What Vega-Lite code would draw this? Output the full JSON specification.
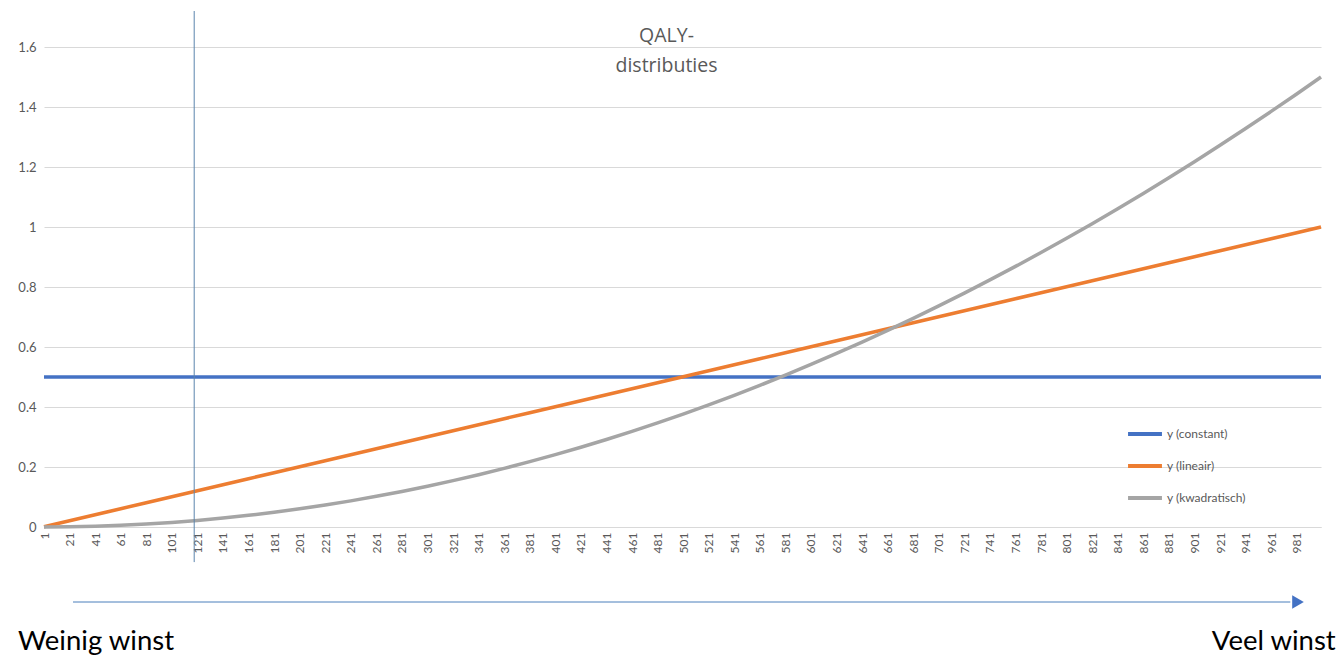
{
  "$schema": "https://vega.github.io/schema/vega-lite/v6.json",
  "width": 1277,
  "height": 516,
  "autosize": {"type": "none"},
  "padding": {"left": 44, "top": 11, "right": 22, "bottom": 133},
  "background": "white",
  "config": {"view": {"stroke": null}, "font": "Lato"},
  "title": {
    "text": ["QALY-", "distributies"],
    "anchor": "middle",
    "frame": "group",
    "font": "Open Sans",
    "fontSize": 19.5,
    "fontWeight": "normal",
    "color": "#595959",
    "lineHeight": 30,
    "baseline": "top",
    "offset": 0,
    "dy": 66,
    "dx": -16
  },
  "datasets": {
    "curves": [
      {"x": 1, "y (constant)": 0.5, "y (lineair)": 0.001, "y (kwadratisch)": 0.0000015},
      {"x": 21, "y (constant)": 0.5, "y (lineair)": 0.021, "y (kwadratisch)": 0.00066},
      {"x": 41, "y (constant)": 0.5, "y (lineair)": 0.041, "y (kwadratisch)": 0.00252},
      {"x": 61, "y (constant)": 0.5, "y (lineair)": 0.061, "y (kwadratisch)": 0.00558},
      {"x": 81, "y (constant)": 0.5, "y (lineair)": 0.081, "y (kwadratisch)": 0.00984},
      {"x": 101, "y (constant)": 0.5, "y (lineair)": 0.101, "y (kwadratisch)": 0.0153},
      {"x": 121, "y (constant)": 0.5, "y (lineair)": 0.121, "y (kwadratisch)": 0.02196},
      {"x": 141, "y (constant)": 0.5, "y (lineair)": 0.141, "y (kwadratisch)": 0.02982},
      {"x": 161, "y (constant)": 0.5, "y (lineair)": 0.161, "y (kwadratisch)": 0.03888},
      {"x": 181, "y (constant)": 0.5, "y (lineair)": 0.181, "y (kwadratisch)": 0.04914},
      {"x": 201, "y (constant)": 0.5, "y (lineair)": 0.201, "y (kwadratisch)": 0.0606},
      {"x": 221, "y (constant)": 0.5, "y (lineair)": 0.221, "y (kwadratisch)": 0.07326},
      {"x": 241, "y (constant)": 0.5, "y (lineair)": 0.241, "y (kwadratisch)": 0.08712},
      {"x": 261, "y (constant)": 0.5, "y (lineair)": 0.261, "y (kwadratisch)": 0.10218},
      {"x": 281, "y (constant)": 0.5, "y (lineair)": 0.281, "y (kwadratisch)": 0.11844},
      {"x": 301, "y (constant)": 0.5, "y (lineair)": 0.301, "y (kwadratisch)": 0.1359},
      {"x": 321, "y (constant)": 0.5, "y (lineair)": 0.321, "y (kwadratisch)": 0.15456},
      {"x": 341, "y (constant)": 0.5, "y (lineair)": 0.341, "y (kwadratisch)": 0.17442},
      {"x": 361, "y (constant)": 0.5, "y (lineair)": 0.361, "y (kwadratisch)": 0.19548},
      {"x": 381, "y (constant)": 0.5, "y (lineair)": 0.381, "y (kwadratisch)": 0.21774},
      {"x": 401, "y (constant)": 0.5, "y (lineair)": 0.401, "y (kwadratisch)": 0.2412},
      {"x": 421, "y (constant)": 0.5, "y (lineair)": 0.421, "y (kwadratisch)": 0.26586},
      {"x": 441, "y (constant)": 0.5, "y (lineair)": 0.441, "y (kwadratisch)": 0.29172},
      {"x": 461, "y (constant)": 0.5, "y (lineair)": 0.461, "y (kwadratisch)": 0.31878},
      {"x": 481, "y (constant)": 0.5, "y (lineair)": 0.481, "y (kwadratisch)": 0.34704},
      {"x": 501, "y (constant)": 0.5, "y (lineair)": 0.501, "y (kwadratisch)": 0.3765},
      {"x": 521, "y (constant)": 0.5, "y (lineair)": 0.521, "y (kwadratisch)": 0.40716},
      {"x": 541, "y (constant)": 0.5, "y (lineair)": 0.541, "y (kwadratisch)": 0.43902},
      {"x": 561, "y (constant)": 0.5, "y (lineair)": 0.561, "y (kwadratisch)": 0.47208},
      {"x": 581, "y (constant)": 0.5, "y (lineair)": 0.581, "y (kwadratisch)": 0.50634},
      {"x": 601, "y (constant)": 0.5, "y (lineair)": 0.601, "y (kwadratisch)": 0.5418},
      {"x": 621, "y (constant)": 0.5, "y (lineair)": 0.621, "y (kwadratisch)": 0.57846},
      {"x": 641, "y (constant)": 0.5, "y (lineair)": 0.641, "y (kwadratisch)": 0.61632},
      {"x": 661, "y (constant)": 0.5, "y (lineair)": 0.661, "y (kwadratisch)": 0.65538},
      {"x": 681, "y (constant)": 0.5, "y (lineair)": 0.681, "y (kwadratisch)": 0.69564},
      {"x": 701, "y (constant)": 0.5, "y (lineair)": 0.701, "y (kwadratisch)": 0.7371},
      {"x": 721, "y (constant)": 0.5, "y (lineair)": 0.721, "y (kwadratisch)": 0.77976},
      {"x": 741, "y (constant)": 0.5, "y (lineair)": 0.741, "y (kwadratisch)": 0.82362},
      {"x": 761, "y (constant)": 0.5, "y (lineair)": 0.761, "y (kwadratisch)": 0.86868},
      {"x": 781, "y (constant)": 0.5, "y (lineair)": 0.781, "y (kwadratisch)": 0.91494},
      {"x": 801, "y (constant)": 0.5, "y (lineair)": 0.801, "y (kwadratisch)": 0.9624},
      {"x": 821, "y (constant)": 0.5, "y (lineair)": 0.821, "y (kwadratisch)": 1.01106},
      {"x": 841, "y (constant)": 0.5, "y (lineair)": 0.841, "y (kwadratisch)": 1.06092},
      {"x": 861, "y (constant)": 0.5, "y (lineair)": 0.861, "y (kwadratisch)": 1.11198},
      {"x": 881, "y (constant)": 0.5, "y (lineair)": 0.881, "y (kwadratisch)": 1.16424},
      {"x": 901, "y (constant)": 0.5, "y (lineair)": 0.901, "y (kwadratisch)": 1.2177},
      {"x": 921, "y (constant)": 0.5, "y (lineair)": 0.921, "y (kwadratisch)": 1.27236},
      {"x": 941, "y (constant)": 0.5, "y (lineair)": 0.941, "y (kwadratisch)": 1.32822},
      {"x": 961, "y (constant)": 0.5, "y (lineair)": 0.961, "y (kwadratisch)": 1.38528},
      {"x": 981, "y (constant)": 0.5, "y (lineair)": 0.981, "y (kwadratisch)": 1.44354},
      {"x": 1000, "y (constant)": 0.5, "y (lineair)": 1.0, "y (kwadratisch)": 1.5}
    ],
    "marker": [{"x": 118.5, "y": -0.117, "y2": 1.72}],
    "arrow": [{"x": 23.7, "x2": 976, "y": -0.25}],
    "head": [{"x": 982, "y": -0.25}],
    "leftLabel": [{"x": -19.4, "y": -0.383, "t": "Weinig winst"}],
    "rightLabel": [{"x": 1011.5, "y": -0.383, "t": "Veel winst"}]
  },
  "layer": [
    {
      "data": {"name": "curves"},
      "transform": [{"fold": ["y (constant)", "y (lineair)", "y (kwadratisch)"], "as": ["reeks", "waarde"]}],
      "mark": {"type": "line", "strokeWidth": 3.5, "clip": false},
      "encoding": {
        "x": {
          "field": "x", "type": "quantitative",
          "scale": {"domain": [1, 1000], "nice": false, "zero": false},
          "axis": {
            "title": null,
            "values": [1,21,41,61,81,101,121,141,161,181,201,221,241,261,281,301,321,341,361,381,401,421,441,461,481,501,521,541,561,581,601,621,641,661,681,701,721,741,761,781,801,821,841,861,881,901,921,941,961,981],
            "tickCount": 200,
            "labelAngle": -90,
            "labelAlign": "right",
            "labelBaseline": "middle",
            "labelFontSize": 12,
            "labelColor": "#595959",
            "labelPadding": 5,
            "labelOverlap": false,
            "labelFlush": false,
            "ticks": false,
            "grid": false,
            "domainColor": "#d9d9d9",
            "domainWidth": 1
          }
        },
        "y": {
          "field": "waarde", "type": "quantitative",
          "scale": {"domain": [0, 1.72], "nice": false},
          "axis": {
            "title": null,
            "values": [0, 0.2, 0.4, 0.6, 0.8, 1, 1.2, 1.4, 1.6],
            "tickCount": 20,
            "format": "~g",
            "labelFontSize": 13,
            "labelColor": "#595959",
            "labelPadding": 8,
            "ticks": false,
            "domain": false,
            "grid": true,
            "gridColor": "#d9d9d9",
            "gridWidth": 1
          }
        },
        "color": {
          "field": "reeks", "type": "nominal",
          "scale": {"domain": ["y (constant)", "y (lineair)", "y (kwadratisch)"], "range": ["#4472C4", "#ED7D31", "#A5A5A5"]},
          "legend": {
            "title": null,
            "orient": "none",
            "legendX": 1082,
            "legendY": 404,
            "symbolType": "stroke",
            "symbolSize": 1150,
            "symbolStrokeWidth": 4,
            "labelFontSize": 12,
            "labelColor": "#595959",
            "labelOffset": 3,
            "rowPadding": 5
          }
        }
      }
    },
    {
      "data": {"name": "marker"},
      "mark": {"type": "rule", "color": "#5b85ad", "strokeWidth": 1, "clip": false},
      "encoding": {
        "x": {"field": "x", "type": "quantitative"},
        "y": {"field": "y", "type": "quantitative"},
        "y2": {"field": "y2"}
      }
    },
    {
      "data": {"name": "arrow"},
      "mark": {"type": "rule", "color": "#4a7ebb", "strokeWidth": 1, "clip": false},
      "encoding": {
        "x": {"field": "x", "type": "quantitative"},
        "x2": {"field": "x2"},
        "y": {"field": "y", "type": "quantitative"}
      }
    },
    {
      "data": {"name": "head"},
      "mark": {"type": "point", "shape": "triangle-right", "filled": true, "size": 180, "color": "#4472C4", "opacity": 1, "clip": false},
      "encoding": {
        "x": {"field": "x", "type": "quantitative"},
        "y": {"field": "y", "type": "quantitative"}
      }
    },
    {
      "data": {"name": "leftLabel"},
      "mark": {"type": "text", "align": "left", "baseline": "middle", "fontSize": 27.5, "color": "#000000", "font": "Lato", "clip": false},
      "encoding": {
        "x": {"field": "x", "type": "quantitative"},
        "y": {"field": "y", "type": "quantitative"},
        "text": {"field": "t"}
      }
    },
    {
      "data": {"name": "rightLabel"},
      "mark": {"type": "text", "align": "right", "baseline": "middle", "fontSize": 27.5, "color": "#000000", "font": "Lato", "clip": false},
      "encoding": {
        "x": {"field": "x", "type": "quantitative"},
        "y": {"field": "y", "type": "quantitative"},
        "text": {"field": "t"}
      }
    }
  ]
}
